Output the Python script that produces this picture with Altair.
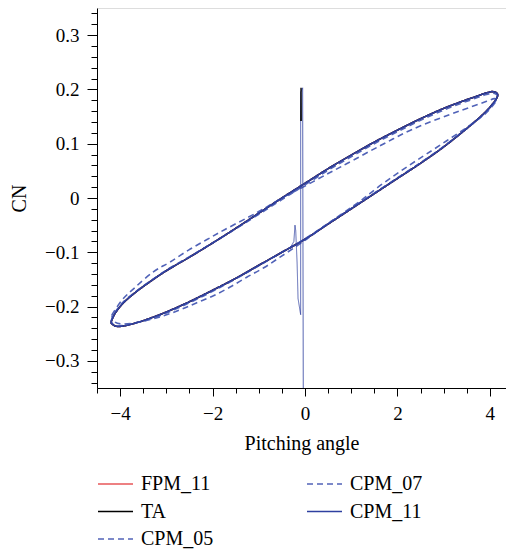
import altair as alt
import pandas as pd

# ---------------- data ----------------
# legend order (column-major in a 2-column legend) = drawing order
SERIES = ["FPM_11", "TA", "CPM_05", "CPM_07", "CPM_11"]
COLORS = ["#e8575a", "#000000", "#5163b8", "#5163b8", "#2e40a0"]
DASHES = [[1, 0], [1, 0], [6, 4], [6, 4], [1, 0]]

# solid loop (CPM_11; FPM_11 and TA coincide with it)
LOOP_A = [-4.20, -4.12, -3.95, -3.70, -3.40, -3.00, -2.50, -2.00, -1.50, -1.00,
          -0.50, 0.00, 0.50, 1.00, 1.50, 2.00, 2.50, 3.00, 3.40, 3.70,
          3.90, 4.05, 4.14, 4.17, 4.12, 4.00, 3.80, 3.50, 3.00, 2.50,
          2.00, 1.50, 1.00, 0.50, 0.00, -0.50, -1.00, -1.50, -2.00, -2.50,
          -3.00, -3.40, -3.70, -3.95, -4.10, -4.20]
CPM11_CN = [-0.230, -0.214, -0.195, -0.176, -0.157, -0.134, -0.109, -0.083, -0.056, -0.028,
            0.000, 0.027, 0.054, 0.079, 0.103, 0.125, 0.146, 0.165, 0.178, 0.187,
            0.193, 0.196, 0.194, 0.189, 0.180, 0.167, 0.150, 0.128, 0.094, 0.064,
            0.036, 0.008, -0.020, -0.048, -0.076, -0.100, -0.124, -0.148, -0.170, -0.191,
            -0.210, -0.223, -0.231, -0.236, -0.236, -0.230]
CPM05_CN = [-0.228, -0.212, -0.193, -0.175, -0.156, -0.133, -0.108, -0.083, -0.057, -0.030,
            -0.003, 0.024, 0.051, 0.076, 0.100, 0.122, 0.143, 0.162, 0.175, 0.184,
            0.190, 0.193, 0.191, 0.187, 0.178, 0.166, 0.149, 0.128, 0.095, 0.065,
            0.037, 0.009, -0.019, -0.047, -0.075, -0.100, -0.125, -0.149, -0.172, -0.193,
            -0.212, -0.224, -0.231, -0.235, -0.235, -0.228]

# distinct dashed loop (CPM_07)
CPM07_A = [-4.18, -3.96, -3.68, -3.28, -2.92, -2.52, -2.13, -1.73, -1.00, -0.50,
           0.00, 0.50, 0.90, 1.62, 2.34, 3.14, 3.60, 3.93, 4.10, 4.15,
           4.08, 3.90, 3.50, 3.06, 2.63, 2.27, 1.91, 1.55, 1.19, 0.50,
           0.00, -0.54, -0.90, -1.26, -1.62, -1.98, -2.34, -2.70, -3.14, -3.60,
           -3.95, -4.12, -4.18]
CPM07_CN = [-0.216, -0.188, -0.165, -0.136, -0.118, -0.096, -0.077, -0.058, -0.025, 0.000,
            0.022, 0.045, 0.063, 0.096, 0.127, 0.154, 0.168, 0.178, 0.183, 0.180,
            0.172, 0.155, 0.130, 0.105, 0.081, 0.061, 0.040, 0.018, -0.006, -0.047,
            -0.078, -0.109, -0.129, -0.146, -0.164, -0.180, -0.193, -0.206, -0.219, -0.229,
            -0.232, -0.228, -0.216]

# start-up transients near zero angle
TRANS11_A = [-0.037, -0.050, -0.093, -0.093, -0.150, -0.170, -0.200, -0.216, -0.240, -0.320, -0.500]
TRANS11_CN = [-0.350, 0.203, 0.195, -0.215, -0.185, -0.120, -0.060, -0.050, -0.080, -0.092, -0.100]
TRANSTA_A = [-0.082, -0.085, -0.088]
TRANSTA_CN = [0.142, 0.203, 0.142]

X_MAJOR = [-4, -2, 0, 2, 4]
X_MINOR = [-4.5, -4.0, -3.5, -3.0, -2.5, -2.0, -1.5, -1.0, -0.5, 0.0,
           0.5, 1.0, 1.5, 2.0, 2.5, 3.0, 3.5, 4.0]
Y_MAJOR = [-0.3, -0.2, -0.1, 0.0, 0.1, 0.2, 0.3]
Y_MINOR = [-0.34, -0.32, -0.30, -0.28, -0.26, -0.24, -0.22, -0.20, -0.18, -0.16,
           -0.14, -0.12, -0.10, -0.08, -0.06, -0.04, -0.02, 0.00, 0.02, 0.04,
           0.06, 0.08, 0.10, 0.12, 0.14, 0.16, 0.18, 0.20, 0.22, 0.24,
           0.26, 0.28, 0.30, 0.32, 0.34]

# ---------------- tables ----------------
loops = {
    "FPM_11": (LOOP_A, CPM11_CN),
    "TA": (LOOP_A, CPM11_CN),
    "CPM_05": (LOOP_A, CPM05_CN),
    "CPM_07": (CPM07_A, CPM07_CN),
    "CPM_11": (LOOP_A, CPM11_CN),
}
rows = []
for s in SERIES:
    xa, yc = loops[s]
    for i, (a, c) in enumerate(zip(xa, yc)):
        rows.append({"series": s, "a": a, "cn": c, "idx": i})
df = pd.DataFrame(rows)

df_t11 = pd.DataFrame({"series": "CPM_11", "a": TRANS11_A, "cn": TRANS11_CN,
                       "idx": list(range(len(TRANS11_A)))})
df_tta = pd.DataFrame({"series": "TA", "a": TRANSTA_A, "cn": TRANSTA_CN,
                       "idx": list(range(len(TRANSTA_A)))})

FONT = "Liberation Serif"
xs = alt.Scale(domain=[-4.5, 4.35], nice=False, zero=False)
ys = alt.Scale(domain=[-0.35, 0.35], nice=False, zero=False)

leg = alt.Legend(
    title=None, orient="none", legendX=0, legendY=466, columns=2, direction="vertical",
    symbolType="stroke", symbolSize=1225, symbolStrokeWidth=1.5, clipHeight=20,
    labelFont=FONT, labelFontSize=20, labelColor="black", labelOffset=7,
    rowPadding=7.5, columnPadding=92,
)
color = alt.Color("series:N", scale=alt.Scale(domain=SERIES, range=COLORS), legend=leg)
dash = alt.StrokeDash("series:N", scale=alt.Scale(domain=SERIES, range=DASHES), legend=leg)

ax_common = dict(grid=False, domainColor="black", tickColor="black", labelColor="black",
                 labelFont=FONT, titleFont=FONT, titleColor="black",
                 titleFontWeight="normal", domainWidth=1, tickWidth=1)

main = alt.Chart(df).mark_line(interpolate="cardinal", strokeWidth=1.6).encode(
    x=alt.X("a:Q", scale=xs, axis=alt.Axis(
        orient="bottom", values=X_MAJOR, format="d", tickSize=8, labelPadding=8,
        labelFontSize=19, title="Pitching angle", titleFontSize=20, titlePadding=10,
        **ax_common)),
    y=alt.Y("cn:Q", scale=ys, axis=alt.Axis(
        orient="left", values=Y_MAJOR, format=".1~f", tickSize=10, labelPadding=8,
        labelFontSize=19, title="CN", titleFontSize=20, titlePadding=15,
        **ax_common)),
    color=color,
    strokeDash=dash,
    order="idx:Q",
)

minor = alt.Chart(df).mark_line(strokeOpacity=0).encode(
    x=alt.X("a:Q", scale=xs, axis=alt.Axis(
        orient="bottom", values=X_MINOR, labels=False, domain=False, tickSize=5,
        title=None, grid=False, tickColor="black", tickWidth=1)),
    y=alt.Y("cn:Q", scale=ys, axis=alt.Axis(
        orient="left", values=Y_MINOR, labels=False, domain=False, tickSize=6,
        title=None, grid=False, tickColor="black", tickWidth=1)),
    detail="series:N",
    order="idx:Q",
)

trans11 = alt.Chart(df_t11).mark_line(strokeWidth=0.8).encode(
    x=alt.X("a:Q", scale=xs, axis=None),
    y=alt.Y("cn:Q", scale=ys, axis=None),
    color=color, strokeDash=dash, order="idx:Q",
)
transta = alt.Chart(df_tta).mark_line(strokeWidth=1.4).encode(
    x=alt.X("a:Q", scale=xs, axis=None),
    y=alt.Y("cn:Q", scale=ys, axis=None),
    color=color, strokeDash=dash, order="idx:Q",
)

chart = alt.layer(main, minor, trans11, transta).resolve_axis(
    x="independent", y="independent"
).properties(
    width=409, height=380,
    padding={"left": 97, "top": 8, "right": 0, "bottom": 164},
    autosize=alt.AutoSizeParams(type="none"),
).configure_view(stroke=None).configure(background="white").configure_axis(
    labelFont=FONT, titleFont=FONT
).configure_legend(labelFont=FONT)

chart.save("out.html", embed_options={"renderer": "svg", "actions": False})
